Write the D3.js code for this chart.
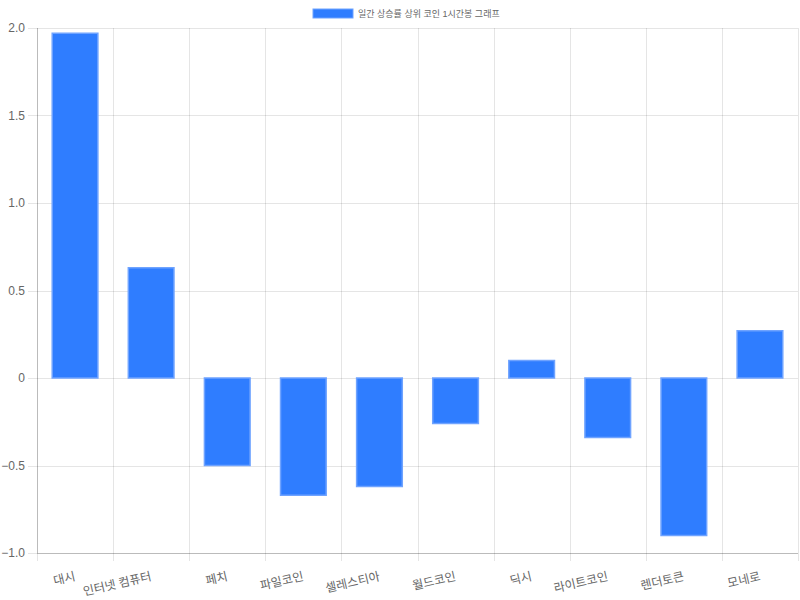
<!DOCTYPE html>
<html>
<head>
<meta charset="utf-8">
<script src="https://cdn.jsdelivr.net/npm/d3@7"></script>
<style>
  body { margin: 0; background: #fff; }
  text { font-family: "Liberation Sans", Arial, "Noto Sans CJK KR", sans-serif; }
</style>
</head>
<body>
<div id="chart"></div>
<script>
// data
var coins = ["대시", "인터넷 컴퓨터", "페치", "파일코인", "셀레스티아", "월드코인", "딕시", "라이트코인", "렌더토큰", "모네로"];
var changes = [1.97, 0.63, -0.50, -0.67, -0.62, -0.26, 0.10, -0.34, -0.90, 0.27];
var yTicks = [-1.0, -0.5, 0, 0.5, 1.0, 1.5, 2.0];
var seriesName = "일간 상승률 상위 코인 1시간봉 그래프";

// set the dimensions and margins of the graph
var margin = {top: 28, right: 2, bottom: 47, left: 37},
    width = 800 - margin.left - margin.right,
    height = 600 - margin.top - margin.bottom;

var svg = d3.select("#chart")
  .append("svg")
    .attr("width", 800)
    .attr("height", 600);

var g = svg.append("g")
    .attr("transform", "translate(" + margin.left + "," + margin.top + ")");

var x = d3.scaleBand()
  .domain(coins)
  .range([0, width]);

var y = d3.scaleLinear()
  .domain([-1, 2])
  .range([height, 0]);

var gridColor = "rgba(0,0,0,0.1)";

// horizontal grid lines + tick marks
g.append("g")
  .selectAll("line")
  .data(yTicks)
  .enter()
  .append("line")
    .attr("x1", -9)
    .attr("x2", width)
    .attr("y1", function(d) { return Math.round(y(d)) + 0.5; })
    .attr("y2", function(d) { return Math.round(y(d)) + 0.5; })
    .attr("stroke", gridColor);

// vertical grid lines at category boundaries
var bounds = coins.map(function(c) { return x(c); }).concat([width]);
g.append("g")
  .selectAll("line")
  .data(bounds)
  .enter()
  .append("line")
    .attr("x1", function(d) { return Math.round(d) + 0.5; })
    .attr("x2", function(d) { return Math.round(d) + 0.5; })
    .attr("y1", 0)
    .attr("y2", height + 8)
    .attr("stroke", gridColor);

// axis border lines
g.append("line")
  .attr("x1", 0.5).attr("x2", 0.5)
  .attr("y1", 0).attr("y2", height)
  .attr("stroke", "rgba(0,0,0,0.18)");
g.append("line")
  .attr("x1", 0).attr("x2", width)
  .attr("y1", height + 0.5).attr("y2", height + 0.5)
  .attr("stroke", "rgba(0,0,0,0.18)");

// y tick labels
g.append("g")
  .selectAll("text")
  .data(yTicks)
  .enter()
  .append("text")
    .attr("x", -12)
    .attr("y", function(d) { return y(d); })
    .attr("dy", "0.35em")
    .attr("text-anchor", "end")
    .attr("fill", "#666")
    .style("font-size", "12px")
    .text(function(d) { return d === 0 ? "0" : d3.format(".1f")(d); });

// x tick labels, rotated
g.append("g")
  .selectAll("text")
  .data(coins)
  .enter()
  .append("text")
    .attr("transform", function(d) {
      return "translate(" + (x(d) + x.bandwidth() / 2) + "," + (height + 23) + ") rotate(-13)";
    })
    .attr("dy", "0.35em")
    .attr("text-anchor", "end")
    .attr("fill", "#666")
    .style("font-size", "12px")
    .text(function(d) { return d; });

// bars
var barW = x.bandwidth() * 0.6;
g.append("g")
  .selectAll("rect")
  .data(changes)
  .enter()
  .append("rect")
    .attr("x", function(d, i) { return x(coins[i]) + (x.bandwidth() - barW) / 2; })
    .attr("y", function(d) { return Math.min(y(d), y(0)); })
    .attr("width", barW)
    .attr("height", function(d) { return Math.abs(y(d) - y(0)); })
    .attr("fill", "#2f7dff")
    .attr("stroke", "#6fa3ff")
    .attr("stroke-width", 1.5);

// legend
var legend = svg.append("g")
    .attr("transform", "translate(313,9)");
legend.append("rect")
  .attr("width", 40)
  .attr("height", 9)
  .attr("fill", "#2f7dff")
  .attr("stroke", "#6fa3ff");
legend.append("text")
  .attr("x", 45)
  .attr("y", 4.5)
  .attr("dy", "0.35em")
  .attr("fill", "#666")
  .style("font-size", "9px")
  .text(seriesName);
</script>
</body>
</html>
